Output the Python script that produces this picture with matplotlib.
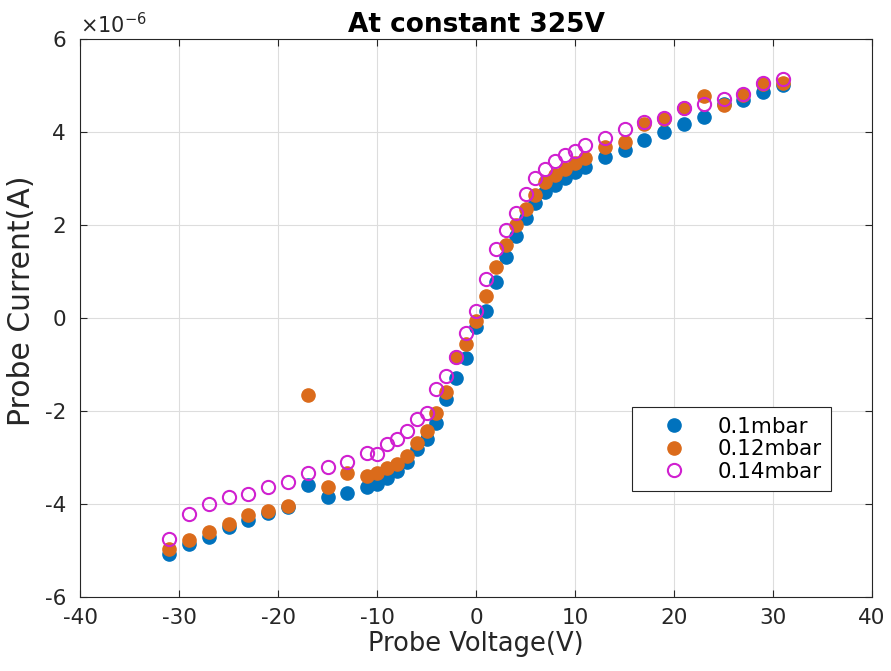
import matplotlib
matplotlib.use("Agg")
import matplotlib.pyplot as plt

# probe voltage (V)
voltage = [-31, -29, -27, -25, -23, -21, -19, -17, -15, -13,
           -11, -10, -9, -8, -7, -6, -5, -4, -3, -2, -1, 0,
           1, 2, 3, 4, 5, 6, 7, 8, 9, 10, 11,
           13, 15, 17, 19, 21, 23, 25, 27, 29, 31]

# probe current in units of 1e-6 A
i_01 = [-5.08, -4.85, -4.72, -4.50, -4.34, -4.20, -4.07, -3.59, -3.84, -3.77,
        -3.64, -3.56, -3.45, -3.30, -3.10, -2.82, -2.61, -2.26, -1.75, -1.30, -0.87, -0.19,
        0.16, 0.78, 1.32, 1.76, 2.14, 2.47, 2.72, 2.86, 3.00, 3.15, 3.25,
        3.46, 3.61, 3.83, 4.01, 4.17, 4.32, 4.60, 4.68, 4.85, 5.01]
i_012 = [-4.97, -4.77, -4.60, -4.42, -4.24, -4.16, -4.04, -1.66, -3.63, -3.34,
         -3.39, -3.34, -3.22, -3.13, -2.97, -2.68, -2.44, -2.04, -1.60, -0.83, -0.57, -0.06,
         0.48, 1.10, 1.58, 2.01, 2.34, 2.65, 2.92, 3.08, 3.20, 3.33, 3.45,
         3.67, 3.78, 4.17, 4.28, 4.51, 4.77, 4.58, 4.80, 5.03, 5.05]
i_014 = [-4.76, -4.21, -4.00, -3.86, -3.78, -3.63, -3.52, -3.34, -3.20, -3.10,
         -2.90, -2.92, -2.72, -2.61, -2.44, -2.18, -2.04, -1.53, -1.25, -0.83, -0.33, 0.16,
         0.84, 1.48, 1.89, 2.26, 2.66, 3.02, 3.20, 3.38, 3.50, 3.60, 3.71,
         3.86, 4.06, 4.21, 4.31, 4.52, 4.60, 4.72, 4.81, 5.06, 5.15]

plt.rcParams['font.family'] = 'DejaVu Sans'
plt.rcParams['axes.unicode_minus'] = False

fig = plt.figure(figsize=(8.91, 6.71), dpi=100)
ax = fig.add_axes([0.0898, 0.1103, 0.8889, 0.8316])

ax.plot(voltage, i_01, 'o', color='#0072BD', markersize=9.5, label='0.1mbar')
ax.plot(voltage, i_012, 'o', color='#DB6B1B', markersize=9.5, label='0.12mbar')
ax.plot(voltage, i_014, 'o', mfc='none', mec='#D020D0', mew=1.5, markersize=9.5, label='0.14mbar')

ax.set_xlim(-40, 40)
ax.set_ylim(-6, 6)
ax.set_xticks(range(-40, 41, 10))
ax.set_yticks(range(-6, 7, 2))
ax.grid(True, color='#dddddd', linewidth=0.8)
ax.set_axisbelow(True)
ax.tick_params(direction='in', top=True, right=True, labelsize=15.5, colors='#262626', length=5)
ax.tick_params(axis='x', pad=8)
ax.tick_params(axis='y', pad=10)
for s in ax.spines.values():
    s.set_color('#262626')
    s.set_linewidth(0.8)

ax.set_xlabel('Probe Voltage(V)', fontsize=18.5, color='#262626', labelpad=2)
ax.set_ylabel('Probe Current(A)', fontsize=21.5, color='#262626')
ax.yaxis.set_label_coords(-0.055, 0.53)
ax.set_title('At constant 325V', fontsize=19, fontweight='bold', pad=5)
ax.text(0.0, 1.003, r'$\times10^{-6}$', transform=ax.transAxes, fontsize=15,
        color='#262626', va='bottom', ha='left')

leg = ax.legend(loc='upper left', bbox_to_anchor=(0.697, 0.3405), fancybox=False,
                fontsize=15.4, edgecolor='#262626', framealpha=1, borderpad=0.45,
                handlelength=3, handletextpad=0.55, labelspacing=0.12,
                borderaxespad=0)
leg.get_frame().set_linewidth(0.8)

fig.savefig('out.png', dpi=100)
